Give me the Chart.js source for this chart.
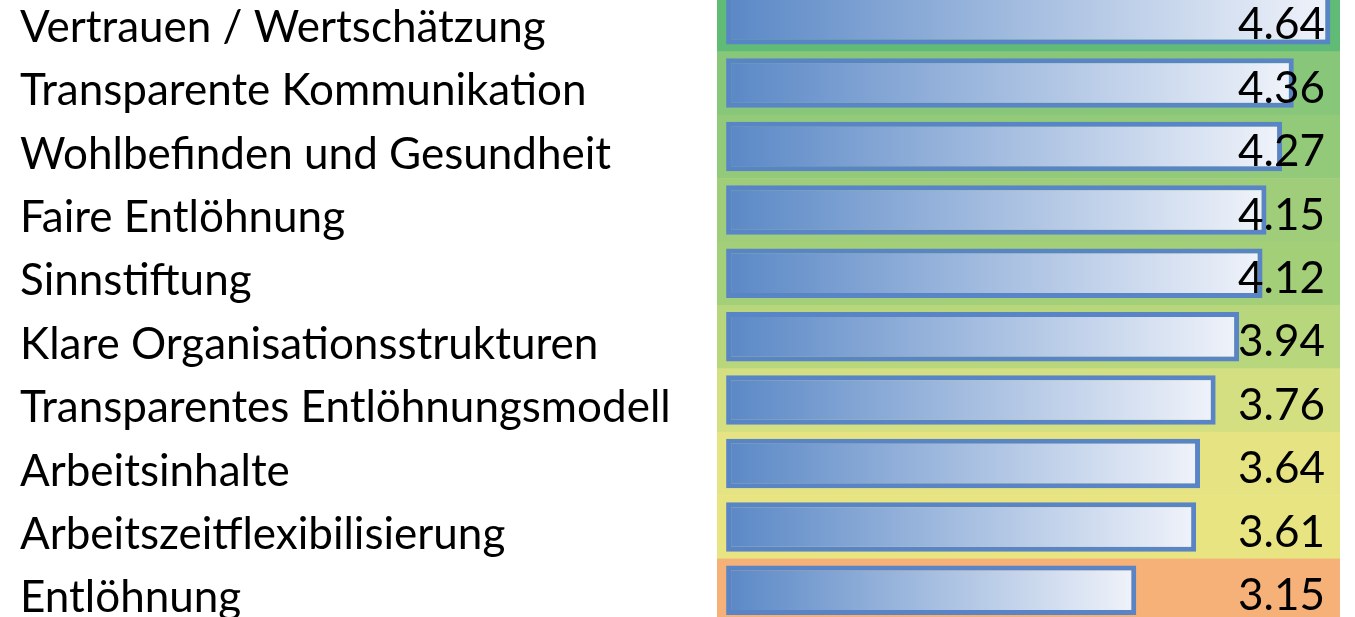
<!DOCTYPE html>
<html>
<head>
<meta charset="utf-8">
<script src="https://cdn.jsdelivr.net/npm/chart.js@4"></script>
<style>
  html, body { margin: 0; padding: 0; background: #fff; overflow: hidden; }
  #wrap { position: absolute; left: 0; top: -12px; width: 1355px; height: 634px; }
</style>
</head>
<body>
<div id="wrap"><canvas id="chart"></canvas></div>
<script>
// Kategorien und Mittelwerte (von oben nach unten)
const categories = [
  "Vertrauen / Wertschätzung",
  "Transparente Kommunikation",
  "Wohlbefinden und Gesundheit",
  "Faire Entlöhnung",
  "Sinnstiftung",
  "Klare Organisationsstrukturen",
  "Transparentes Entlöhnungsmodell",
  "Arbeitsinhalte",
  "Arbeitszeitflexibilisierung",
  "Entlöhnung"
];
const scores = [4.64, 4.36, 4.27, 4.15, 4.12, 3.94, 3.76, 3.64, 3.61, 3.15];

// Farbskala der Zellen (wie bedingte Formatierung)
const cellColors = [
  "#5fbb76", "#88c77a", "#92ca79", "#9fcd79", "#a3cf79",
  "#b8d67c", "#d3df80", "#e5e382", "#e8e482", "#f6b179"
];

const FONT = "Lato, 'Open Sans', sans-serif";
const FONT_SIZE = 44;

// Zellhintergrund hinter den Balken
const cellBackground = {
  id: 'cellBackground',
  beforeDatasetsDraw(chart) {
    const { ctx, chartArea, scales } = chart;
    const step = scales.y.height / categories.length;
    ctx.save();
    categories.forEach((c, i) => {
      const yc = scales.y.getPixelForValue(i);
      ctx.fillStyle = cellColors[i];
      ctx.fillRect(chartArea.left, yc - step / 2, chartArea.right - chartArea.left, step + 0.5);
    });
    ctx.restore();
  }
};

// Zahlenwerte rechtsbündig in der Zelle
const valueLabels = {
  id: 'valueLabels',
  afterDatasetsDraw(chart) {
    const { ctx, chartArea, scales } = chart;
    const step = scales.y.height / categories.length;
    ctx.save();
    ctx.font = FONT_SIZE + "px " + FONT;
    ctx.fillStyle = "#000";
    ctx.textAlign = "right";
    ctx.textBaseline = "alphabetic";
    scores.forEach((v, i) => {
      const yc = scales.y.getPixelForValue(i);
      ctx.fillText(v.toFixed(2), chartArea.right - 15, yc + step / 2 - 12);
    });
    ctx.restore();
  }
};

const ctx = document.getElementById('chart').getContext('2d');

new Chart(ctx, {
  type: 'bar',
  data: {
    labels: categories,
    datasets: [{
      data: scores,
      backgroundColor: (c) => {
        const chart = c.chart;
        const x = chart.scales.x;
        if (!x || !chart.chartArea || typeof c.raw !== 'number') return "#5b8bc9";
        const x0 = x.getPixelForValue(0);
        const x1 = x.getPixelForValue(c.raw);
        if (!isFinite(x0) || !isFinite(x1)) return "#5b8bc9";
        const g = chart.ctx.createLinearGradient(x0, 0, x1, 0);
        g.addColorStop(0, "#5a88c6");
        g.addColorStop(1, "#f0f3fa");
        return g;
      },
      borderColor: "#5985c7",
      borderWidth: 5,
      borderSkipped: false,
      barPercentage: 0.78,
      categoryPercentage: 1
    }]
  },
  options: {
    indexAxis: 'y',
    responsive: true,
    maintainAspectRatio: false,
    animation: false,
    layout: { padding: { left: 20, right: 15, top: 0, bottom: 0 } },
    plugins: {
      legend: { display: false },
      tooltip: { enabled: false }
    },
    scales: {
      x: {
        display: false,
        min: -0.07,
        max: 4.715
      },
      y: {
        grid: { display: false },
        border: { display: false },
        ticks: {
          crossAlign: 'far',
          color: "#000",
          font: { family: FONT, size: FONT_SIZE },
          labelOffset: 8,
          padding: 0
        },
        afterFit(scale) {
          scale.width = 697;
          scale.paddingTop = 0;
          scale.paddingBottom = 0;
        }
      }
    }
  },
  plugins: [cellBackground, valueLabels]
});
</script>
</body>
</html>
